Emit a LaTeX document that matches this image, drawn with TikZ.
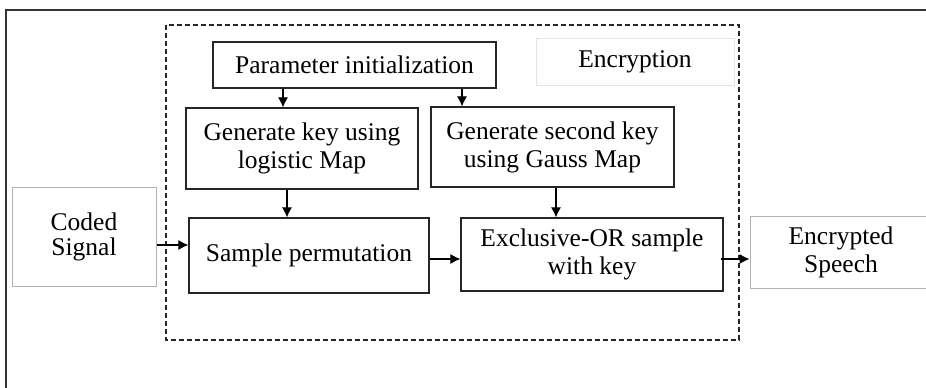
\documentclass[tikz,border=0pt]{standalone}
\usepackage{fontspec}
\setmainfont{Liberation Serif}
\usetikzlibrary{positioning,arrows.meta}
\tikzset{
  blk/.style={draw=black!85, line width=1.2pt, align=center, inner sep=0pt},
  gblk/.style={draw=black!30, line width=1pt, align=center, inner sep=0pt},
  arr/.style={-{Latex[length=10pt,width=10pt]}, line width=1.1pt},
}
\begin{document}
\begin{tikzpicture}[x=1pt,y=-1pt,font=\fontsize{25.5}{28}\selectfont]
\useasboundingbox (0,0) rectangle (926,388);
\draw[black!80, line width=1.5pt] (6,392) -- (6,10) -- (930,10); %frame
\draw[black!85, line width=1.1pt, dash pattern=on 5pt off 3pt] (166,25) rectangle (739,340);
\node[blk, minimum width=283, minimum height=46] (param) at (354.5,65) {Parameter initialization};
\node[draw=black!10, line width=1pt, minimum width=198, minimum height=47] (encr) at (635,61.5) {Encryption}; %label
\node[blk, minimum width=232, minimum height=81] (gkey1) at (302,148.5) {Generate key using\\logistic Map};
\node[blk, minimum width=243, minimum height=80] (gkey2) at (552.5,147) {Generate second key\\using Gauss Map};
\node[gblk, minimum width=144, minimum height=99] (coded) at (84,236.5) {Coded\\[-3pt]Signal};
\node[blk, minimum width=240, minimum height=75] (perm) at (309,255.5) {Sample permutation};
\node[blk, minimum width=262, minimum height=73] (xor) at (592,254.5) {Exclusive-OR sample\\with key};
\node[gblk, minimum width=182, minimum height=72] (encsp) at (841,252) {Encrypted\\Speech};
\draw[arr] ([xshift=-71.5pt]param.south) -- ([xshift=-19pt]gkey1.north);
\draw[arr] ([xshift=107.5pt]param.south) -- ([xshift=-90.5pt]gkey2.north);
\draw[arr] ([xshift=-15pt]gkey1.south) -- ([xshift=-22pt]perm.north);
\draw[arr] ([xshift=3.5pt]gkey2.south) -- ([xshift=-36pt]xor.north);
\draw[arr] ([yshift=-8.5pt]coded.east) -- ([yshift=10.5pt]perm.west);
\draw[arr] ([yshift=-3.5pt]perm.east) -- ([yshift=-4.5pt]xor.west);
\draw[arr] ([yshift=-4.5pt,xshift=-3pt]xor.east) -- ([yshift=-7pt]encsp.west);
\end{tikzpicture}
\end{document}
